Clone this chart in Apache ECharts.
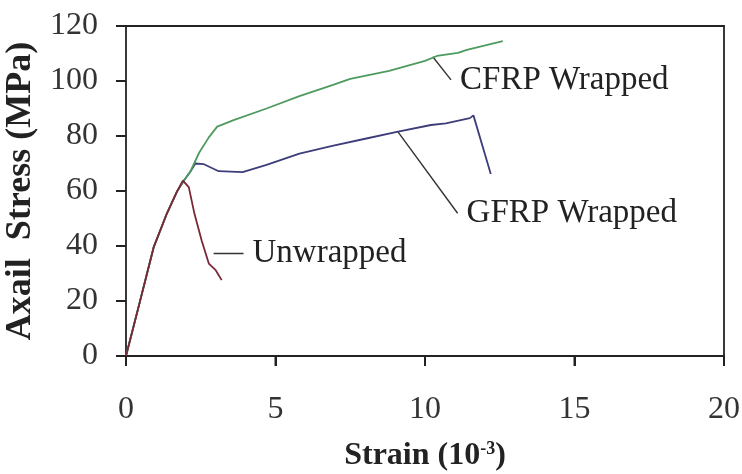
<!DOCTYPE html>
<html>
<head>
<meta charset="utf-8">
<script src="https://cdn.jsdelivr.net/npm/echarts@6/dist/echarts.min.js"></script>
<style>
  html, body { margin: 0; padding: 0; background: #fff; }
  #chart { width: 742px; height: 474px; }
</style>
</head>
<body>
<div id="chart"></div>
<script>
// stress-strain curves, values
const unwrappedStrain = [0, 0.48, 0.93, 1.37, 1.7, 1.9, 2.1, 2.29, 2.53, 2.77, 3.0, 3.2];
const unwrappedStress = [0, 20.4, 39.7, 51.9, 59.7, 63.8, 61.4, 51.7, 42, 33.6, 31.2, 27.6];

const gfrpStrain = [0, 0.48, 0.93, 1.37, 1.7, 1.95, 2.15, 2.32, 2.59, 3.1, 3.9, 4.7, 5.8, 6.9, 8.0, 9.1, 10.2, 10.7, 11.5, 11.62, 12.2];
const gfrpStress = [0, 20.4, 39.7, 51.9, 59.7, 64, 67, 70, 69.8, 67.2, 66.9, 69.5, 73.6, 76.4, 79, 81.6, 84, 84.6, 86.5, 87.5, 66.2];

const cfrpStrain = [0, 0.48, 0.93, 1.37, 1.7, 1.95, 2.15, 2.45, 2.77, 3.05, 3.6, 4.7, 5.8, 6.9, 7.5, 8.8, 10.0, 10.4, 11.1, 11.4, 12.6];
const cfrpStress = [0, 20.4, 39.7, 51.9, 59.7, 64, 67, 74, 79.5, 83.4, 85.8, 90, 94.5, 98.5, 100.8, 103.7, 107.3, 109.1, 110.2, 111.3, 114.5];

// leader lines to the curve labels: [strain, stress] start -> end
const labelNames = ["CFRP Wrapped", "GFRP Wrapped", "Unwrapped"];
const leaderFrom = [[10.26, 108.8], [9.09, 81.6], [2.93, 37.3]];
const leaderTo = [[10.87, 100.4], [11.09, 51.9], [3.93, 37.3]];

const xTicks = [0, 5, 10, 15, 20];
const yTicks = [0, 20, 40, 60, 80, 100, 120];

const zip = (xs, ys) => xs.map((x, i) => [x, ys[i]]);
const serif = "Liberation Serif";
const ink = "#222";

const chart = echarts.init(document.getElementById("chart"));

const curve = (name, xs, ys, color) => ({
  name, type: "line", data: zip(xs, ys),
  showSymbol: false, smooth: false, z: 3,
  lineStyle: { color, width: 1.8 }
});

const leaders = labelNames.map((name, i) => ({
  name: name + " leader", type: "line", showSymbol: false, silent: true, z: 2,
  lineStyle: { color: "#333", width: 1.4 },
  data: [leaderFrom[i], leaderTo[i]],
  endLabel: {
    show: true, distance: 9, formatter: name,
    fontFamily: serif, fontSize: 33, color: ink
  }
}));

// outward tick marks, placed through the axes' own scales
const tickMarks = (data, dx, dy) => ({
  type: "custom", silent: true, clip: false, z: 4,
  data,
  renderItem: (params, api) => {
    const p = api.coord([api.value(0), api.value(1)]);
    return {
      type: "line",
      shape: { x1: p[0], y1: p[1], x2: p[0] + dx, y2: p[1] + dy },
      style: { stroke: ink, lineWidth: 2 }
    };
  }
});

// plain frame axes for the top and right edges of the box
const frameAxis = (position) => ({
  type: "value", position, min: 0, max: position === "top" ? 20 : 120,
  axisLine: { show: true, onZero: false, lineStyle: { color: ink, width: 1.8 } },
  axisTick: { show: false }, axisLabel: { show: false }, splitLine: { show: false }
});

chart.setOption({
  animation: false,
  grid: { left: 126, right: 18, top: 26, bottom: 118, outerBoundsMode: "none" },
  xAxis: [{
    type: "value", min: 0, max: 20, interval: 5,
    name: "Strain (10{sup|-3})",
    nameLocation: "middle", nameGap: 84,
    nameTextStyle: {
      fontFamily: serif, fontSize: 32, fontWeight: "bold", color: ink,
      rich: { sup: { fontFamily: serif, fontSize: 18, fontWeight: "bold", color: ink, verticalAlign: "top", padding: [0, 0, 14, 0] } }
    },
    axisLine: { show: true, onZero: false, lineStyle: { color: ink, width: 1.8 } },
    axisTick: { show: true, length: 10, lineStyle: { color: ink, width: 2 } },
    axisLabel: { margin: 38, fontFamily: serif, fontSize: 32, color: "#333" },
    splitLine: { show: false }
  }, frameAxis("top")],
  yAxis: [{
    type: "value", min: 0, max: 120, interval: 20,
    name: "Axail  Stress (MPa)",
    nameLocation: "middle", nameGap: 76,
    nameTextStyle: { fontFamily: serif, fontSize: 36, fontWeight: "bold", color: ink },
    axisLine: { show: true, onZero: false, lineStyle: { color: ink, width: 1.8 } },
    axisTick: { show: true, length: 10, lineStyle: { color: ink, width: 2 } },
    axisLabel: { margin: 28, fontFamily: serif, fontSize: 32, color: "#333" },
    splitLine: { show: false }
  }, frameAxis("right")],
  series: [
    tickMarks(xTicks.map((v) => [v, 0]), 0, 10),
    tickMarks(yTicks.map((v) => [0, v]), -10, 0),
    ...leaders,
    curve("GFRP Wrapped", gfrpStrain, gfrpStress, "#3d3d7a"),
    curve("CFRP Wrapped", cfrpStrain, cfrpStress, "#4f9a5f"),
    curve("Unwrapped", unwrappedStrain, unwrappedStress, "#7a2838")
  ]
});
</script>
</body>
</html>
